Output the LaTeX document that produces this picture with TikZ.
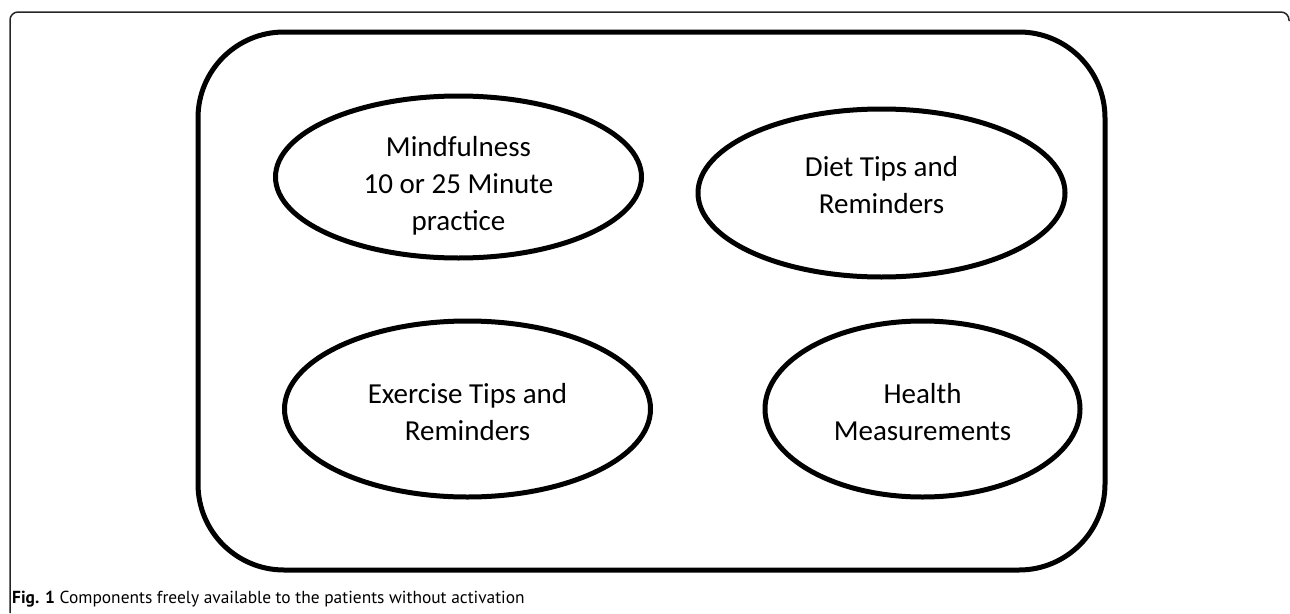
\documentclass[tikz,border=0pt]{standalone}
\usepackage{fontspec}
\newfontfamily\boxfont{Carlito}
\newfontfamily\capfont{PT Sans}
\usetikzlibrary{shapes.geometric}

\begin{document}
\begin{tikzpicture}[x=1pt,y=-1pt,
  part/.style={ellipse, draw, line width=5pt},
  parttext/.style={align=center, font=\boxfont\fontsize{29}{37}\selectfont},
  frame/.style={draw, line width=5pt, rounded corners=86pt}]
 \useasboundingbox (0,0) rectangle (1290,613);
 % page frame
 \draw[line width=1.5pt, black!85, rounded corners=8pt] (10,613) -- (10,12) -- (1289,12) -- (1289,21);
 \node (box) [frame, minimum width=907pt, minimum height=538pt] at (651.5,301) {};
 \node (mind) [part, minimum width=366pt, minimum height=162pt,
   label={[parttext, yshift=-9pt]center:Mindfulness\\10 or 25 Minute\\practice}] at (458.5,177) {};
 \node (diet) [part, minimum width=367pt, minimum height=168pt,
   label={[parttext, yshift=8pt]center:Diet Tips and\\Reminders}] at (881.5,193) {};
 \node (exer) [part, minimum width=366pt, minimum height=176pt,
   label={[parttext, yshift=-3pt]center:Exercise Tips and\\Reminders}] at (467.5,409) {};
 \node (health) [part, minimum width=315pt, minimum height=176pt,
   label={[parttext, yshift=-3pt]center:Health\\Measurements}] at (922.5,409) {};
 \node (cap) [anchor=base west, inner sep=0pt, font=\capfont\fontsize{17.4}{20}\selectfont]
   at (12,603) {\textbf{Fig. 1} Components freely available to the patients without activation};
\end{tikzpicture}
\end{document}
